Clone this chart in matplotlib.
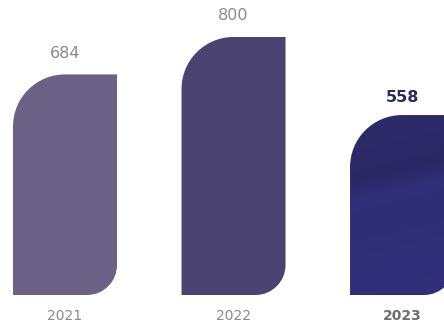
import numpy as np
import matplotlib
matplotlib.use("Agg")
import matplotlib.pyplot as plt
from matplotlib.path import Path
from matplotlib.patches import PathPatch
from matplotlib.colors import LinearSegmentedColormap

years = ["2021", "2022", "2023"]
values = [684, 800, 558]
colors = ["#6b6186", "#4a4271", None]

# gradient stops for the highlighted (last) bar
grad_stops = [(0.0, "#302f7a"), (0.4, "#2e2d73"), (0.52, "#302e76"),
              (0.62, "#2b2965"), (0.8, "#2c2a68"), (1.0, "#2d2b6c")]

plt.rcParams['font.family'] = ['DejaVu Sans']

fig = plt.figure(figsize=(4.44, 3.24), dpi=100)
ax = fig.add_axes([0, 0, 1, 1])
XL = (-0.3858, 2.249)
YL = (-89.9, 914.7)
ax.set_xlim(*XL)
ax.set_ylim(*YL)
ax.axis('off')

# pixel -> data scales
px_x = 444 / (XL[1] - XL[0])
px_y = 324 / (YL[1] - YL[0])
width = 104 / px_x
K = 0.5523


def rounded_bar(xc, h, r_tl=52, r_br=30):
    x0, x1 = xc - width / 2, xc + width / 2
    y0, y1 = 0, h
    tx, ty = r_tl / px_x, r_tl / px_y
    bx, by = r_br / px_x, r_br / px_y
    verts = [
        (x0, y0),
        (x1 - bx, y0),
        (x1 - bx + K * bx, y0), (x1, y0 + by - K * by), (x1, y0 + by),
        (x1, y1),
        (x0 + tx, y1),
        (x0 + tx - K * tx, y1), (x0, y1 - ty + K * ty), (x0, y1 - ty),
        (x0, y0),
    ]
    codes = [Path.MOVETO, Path.LINETO,
             Path.CURVE4, Path.CURVE4, Path.CURVE4,
             Path.LINETO, Path.LINETO,
             Path.CURVE4, Path.CURVE4, Path.CURVE4,
             Path.CLOSEPOLY]
    return Path(verts, codes), (x0, x1, y0, y1)


for i, (yr, v) in enumerate(zip(years, values)):
    path, (x0, x1, y0, y1) = rounded_bar(i, v)
    last = i == len(years) - 1
    if colors[i] is not None:
        ax.add_patch(PathPatch(path, facecolor=colors[i], edgecolor='none'))
    else:
        patch = PathPatch(path, facecolor='none', edgecolor='none')
        ax.add_patch(patch)
        gx, gy = np.meshgrid(np.linspace(0, 1, 200), np.linspace(0, 1, 200))
        g = np.clip(gy - 0.14 * gx, 0, 1)
        cmap = LinearSegmentedColormap.from_list("g", grad_stops)
        im = ax.imshow(g, extent=(x0, x1, y0, y1), origin='lower', cmap=cmap,
                       vmin=0, vmax=1, aspect='auto', interpolation='bilinear')
        im.set_clip_path(patch)
    gap = 18 if last else 21
    ax.text(i, v + gap / px_y, str(v), ha='center', va='center',
            fontsize=11.5, color='#2b2a5e' if last else '#8a8a8a',
            fontweight='bold' if last else 'normal')
    ax.text(i, -21 / px_y, yr, ha='center', va='center', fontsize=10,
            color='#6e6e6e' if last else '#8a8a8a',
            fontweight='bold' if last else 'normal')

ax.set_xlim(*XL)
ax.set_ylim(*YL)
fig.savefig("out.png", dpi=100)
